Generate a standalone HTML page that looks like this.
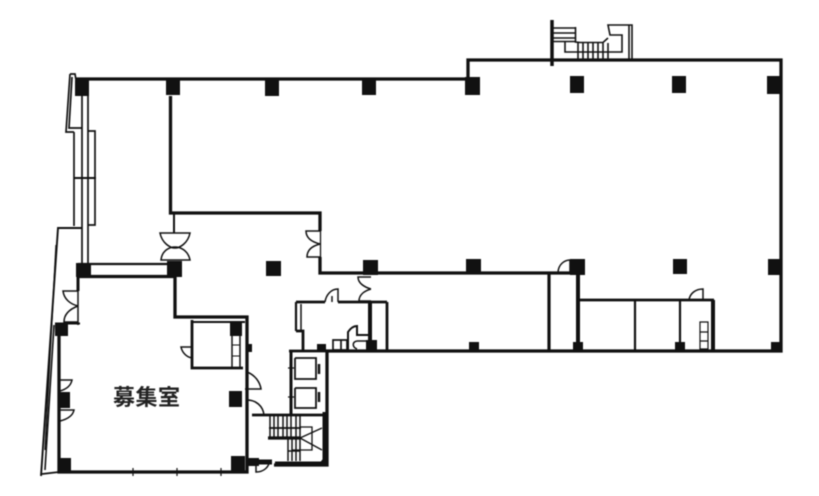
<!DOCTYPE html>
<html><head><meta charset="utf-8"><style>
html,body{margin:0;padding:0;background:#fff;width:819px;height:496px;overflow:hidden}
svg{display:block;filter:blur(.55px)}
</style></head><body>
<svg width="819" height="496" viewBox="0 0 819 496" xmlns="http://www.w3.org/2000/svg">
<g fill="none" stroke="#111" stroke-width="3.300" stroke-linejoin="miter">
<!-- main outline -->
<path d="M76 79H468V60H781V351H327V465H274"/>
<path d="M552 20V66" stroke-width="3.500"/>
<!-- inner wall upper -->
<path d="M170.500 96V213H320V231M320 257V273H369"/>
<path d="M369 273H578"/>
<path d="M174 213V233" stroke-width="2"/>
<path d="M320.500 231V257" stroke-width="1.300"/>
<!-- room -->
<path d="M78 264H175" stroke-width="2.200"/>
<path d="M78 276.500H175"/>
<path d="M78 276V291" stroke-width="3"/>
<path d="M78 291V325" stroke-width="1.500"/>
<path d="M55 323.500H80" stroke-width="2"/>
<path d="M175 276V317H247V472H59V325"/>
<path d="M133 468V476M177 468V476M221 468V476" stroke-width="1.200"/>
<!-- elevator block -->
<path d="M192 320V368H243" stroke-width="2.800"/>
<path d="M192 322H245" stroke-width="2"/>
<path d="M232 336V367M240 336V367" stroke-width="1.500"/>
<path d="M232 345H240M232 356H240" stroke-width="1"/>
<!-- toilet room -->
<path d="M296 302H325M338 302H387" stroke-width="2.800"/>
<path d="M296 302V331" stroke-width="2.200"/>
<path d="M301 304V331" stroke-width="1.500"/>
<path d="M296 331H303V351" stroke-width="2.800"/>
<path d="M370 302V351" stroke-width="4"/>
<path d="M387 302V351" stroke-width="2.800"/>
<path d="M332 296V302" stroke-width="1.500"/>
<!-- core -->
<path d="M291 351V415" stroke-width="3"/>
<path d="M295 358H316V379H295V358" stroke-width="1.800"/>
<path d="M295 388H316V408H295V388" stroke-width="1.800"/>
<path d="M289 351H328" stroke-width="2.800"/>
<path d="M319 364V374M319 392V402" stroke-width="2.500"/>
<path d="M288 368H294M288 397H294" stroke-width="1.200"/>
<path d="M252 415H325" stroke-width="2.800"/>
<path d="M268 438H300" stroke-width="3.200"/>
<path d="M300 427H312V450H292" stroke-width="1.300"/>
<path d="M300 438L322 428M300 438L322 450" stroke-width="1.300"/>
<path d="M325 412V465" stroke-width="5"/>
<path d="M248 462H272M275 464H326" stroke-width="5"/>
<!-- east partitions -->
<path d="M549 273V351" stroke-width="3.200"/>
<path d="M578 273V351" stroke-width="4"/>
<path d="M580 300H714" stroke-width="2.800"/>
<path d="M635 300V351" stroke-width="2.200"/>
<path d="M680 300V351" stroke-width="2.200"/>
<path d="M713 300V351" stroke-width="4"/>
<path d="M700 322H708V349H700ZM700 332H708M700 341H708" stroke-width="1.200"/>
<!-- west balcony double lines -->
<g stroke-width="1.700">
<path d="M70 74H75L76 80"/>
<path d="M70 74L66 132H74"/>
<path d="M72 77L69 128H82"/>
<path d="M82 96V265M88 96V265"/>
<path d="M74 132V226M88 131H95V225H88"/>
<path d="M74 178H96" stroke-width="2"/>
<path d="M82 228H58L41 476" stroke-width="1.900"/>
<path d="M56 245L45 450" stroke-width="1.300"/>
<path d="M54 325L45 470" stroke-width="1.600"/>
<path d="M42 474L59 472"/>
</g>
<!-- doors -->
<g stroke-width="1.500">
<path d="M160 233H190C188 243 180 248 175 248C170 248 162 243 160 233Z"/>
<path d="M161 260H190C188 250 180 247 175 247C170 247 162 250 161 260Z"/>
<path d="M320 231H306C306 238 312 242 320 244M320 257H307C307 250 312 246 320 244"/>
<path d="M78 291H63C64 299 70 304 78 306M78 322H64C64 314 70 309 78 306"/>
<path d="M371 277H358C358 283 364 287 371 289M371 301H359C359 295 364 291 371 289"/>
<path d="M60 380H72C71 385 67 389 60 391M60 410H74C73 415 68 419 60 421"/>
<path d="M192 347H181C182 352 186 357 192 358"/>
<path d="M325 302C326 295 331 289 338 289V302"/>
<path d="M247 372C255 375 260 382 261 389H245"/>
<path d="M247 400C256 400 263 406 264 415"/>
<path d="M256 460V472C264 472 269 467 270 460"/>
<path d="M558 273C558 264 565 260 570 260V273"/>
<path d="M689 300C690 293 696 289 703 289V300"/>
</g>
<!-- top stair -->
<g stroke-width="1.600">
<path d="M552 28H576M552 33H576M552 38H576M552 41.500H576"/>
<path d="M575.500 27V42L580 42.500H603L608 38"/>
<path d="M565 41V52H622V35H610L608 25H632V60"/>
<path d="M629 25V60"/>
<path d="M578 43V60M583 43V60M588 43V60M593 43V60M598 43V60M603 43V60M608 43V60"/>
</g>
<!-- main stair -->
<g stroke-width="1.500">
<path d="M270 416V438M274 416V438M278 416V438M283 416V438M287 416V438M291 416V438M296 416V438M300 416V438"/>
<path d="M269 428H301" stroke-width="1.800"/>
<path d="M288 438V461M292 438V461M296 438V461M300 438V461"/>
<path d="M288 451H300"/>
</g>
<!-- fixtures -->
<path d="M333 340H341V350H333ZM341 340H347V350H341Z" stroke-width="1.700"/>
<path d="M348 350V332C350 329 353 326 357 326V335H369" stroke-width="2"/>
<path d="M357 341H368M357 349C352 347 352 342 357 341" stroke-width="1.500"/>
</g>
<!-- columns -->
<g fill="#111">
<rect x="75" y="80" width="14" height="16"/>
<rect x="166" y="80" width="14" height="15"/>
<rect x="265" y="80" width="14" height="16"/>
<rect x="362" y="80" width="14" height="15"/>
<rect x="465" y="77" width="15" height="18"/>
<rect x="570" y="76" width="14" height="17"/>
<rect x="672" y="76" width="14" height="17"/>
<rect x="767" y="76" width="13" height="18"/>
<rect x="76" y="263" width="15" height="14"/>
<rect x="167" y="261" width="15" height="16"/>
<rect x="266" y="261" width="15" height="15"/>
<rect x="363" y="260" width="15" height="15"/>
<rect x="466" y="259" width="15" height="14"/>
<rect x="570" y="259" width="15" height="16"/>
<rect x="673" y="259" width="14" height="15"/>
<rect x="768" y="259" width="12" height="16"/>
<rect x="55" y="323" width="13" height="13"/>
<rect x="59" y="392" width="11" height="16"/>
<rect x="59" y="458" width="12" height="14"/>
<rect x="230" y="322" width="12" height="14"/>
<rect x="247" y="344" width="5" height="8"/>
<rect x="229" y="391" width="13" height="16"/>
<rect x="231" y="456" width="14" height="16"/>
<rect x="247" y="458" width="12" height="8"/>
<rect x="317" y="344" width="9" height="7"/>
<rect x="366" y="340" width="11" height="11"/>
<rect x="469" y="342" width="10" height="9"/>
<rect x="573" y="342" width="10" height="9"/>
<rect x="675" y="342" width="10" height="9"/>
<rect x="771" y="342" width="10" height="9"/>
<polygon points="318,465 326,465 326,455"/>
</g>
<text x="113" y="405" font-family="'Liberation Sans','Noto Sans CJK JP',sans-serif" font-weight="700" fill="#222" textLength="67" lengthAdjust="spacing" style="font-size:22px">募集室</text>
</svg>
</body></html>
